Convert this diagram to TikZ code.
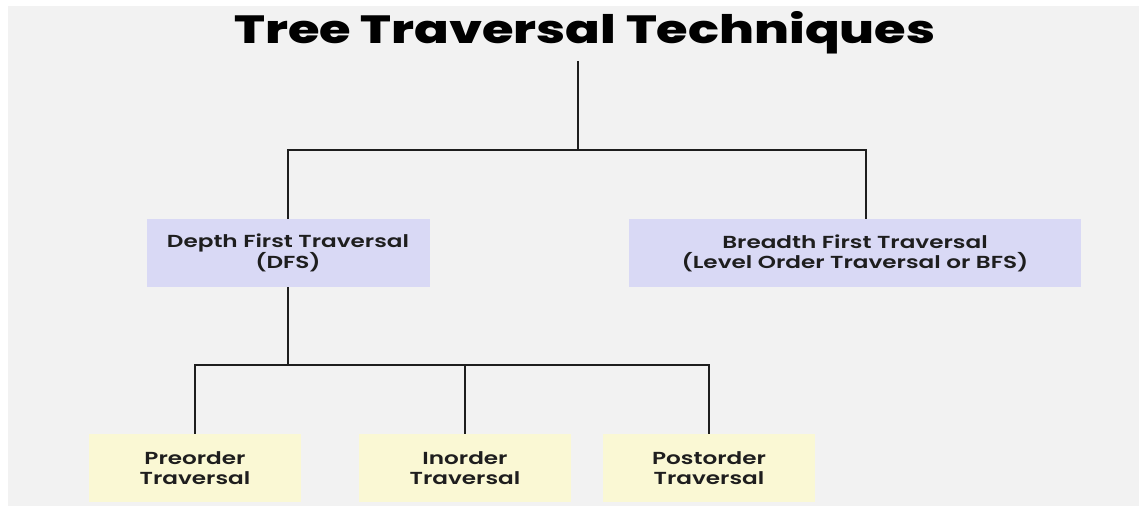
\documentclass[tikz,border=0pt]{standalone}
\usepackage{fontspec}
\setmainfont{Poppins}[BoldFont={* SemiBold}, FakeStretch=1.33]
\newfontfamily\titlefont{Poppins}[UprightFont={* ExtraBold}, FakeStretch=1.3]
\usetikzlibrary{positioning}
\definecolor{pagebg}{HTML}{F2F2F2}
\definecolor{dfsfill}{HTML}{D9D9F5}
\definecolor{leaffill}{HTML}{FAF8D4}
\definecolor{ink}{HTML}{1E1E1E}
\tikzset{
  x=1pt, y=-1pt,
  link/.style={draw=ink, line width=2pt},
  boxtext/.style={align=center, inner sep=0pt, text=ink,
    font=\bfseries\fontsize{17.4}{20}\selectfont},
  branchbox/.style={boxtext, fill=dfsfill, minimum height=68pt},
  leafbox/.style={boxtext, fill=leaffill, minimum width=212pt, minimum height=68pt},
}
\begin{document}
\begin{tikzpicture}
  % canvas
  \path[fill=white] (0,0) rectangle (1139,508);
  \path[fill=pagebg] (8,6) rectangle (1139,506);
  \useasboundingbox (0,0) rectangle (1139,508);

  % title
  \node[font=\titlefont\fontsize{39.3}{45}\selectfont, text=black] (title) at (585,33) {Tree Traversal Techniques};

  % level-one boxes
  \node[branchbox, minimum width=283pt] (dfs) at (288,253) {Depth First Traversal\\(DFS)};
  \node[branchbox, minimum width=452pt] (bfs) at (855,253) {Breadth First Traversal\\(Level Order Traversal or BFS)};

  % leaves
  \node[leafbox] (pre) at (195,468) {Preorder\\Traversal};
  \node[leafbox] (in) at (465,468) {Inorder\\Traversal};
  \node[leafbox] (post) at (709,468) {Postorder\\Traversal};

  % connectors
  \coordinate (trunk) at (578,61);
  \coordinate (split) at (578,150);
  \draw[link] (trunk) -- (split);
  \draw[link] (dfs.north) -- (dfs.north |- split) -- (866,150) -- (866,219);

  \coordinate (fork) at (288,365);
  \draw[link] (dfs.south) -- (dfs.south |- fork);
  \draw[link] (pre.north) -- (pre.north |- fork) -- (post.north |- fork) -- (post.north);
  \draw[link] (in.north) -- (in.north |- fork);
\end{tikzpicture}
\end{document}
